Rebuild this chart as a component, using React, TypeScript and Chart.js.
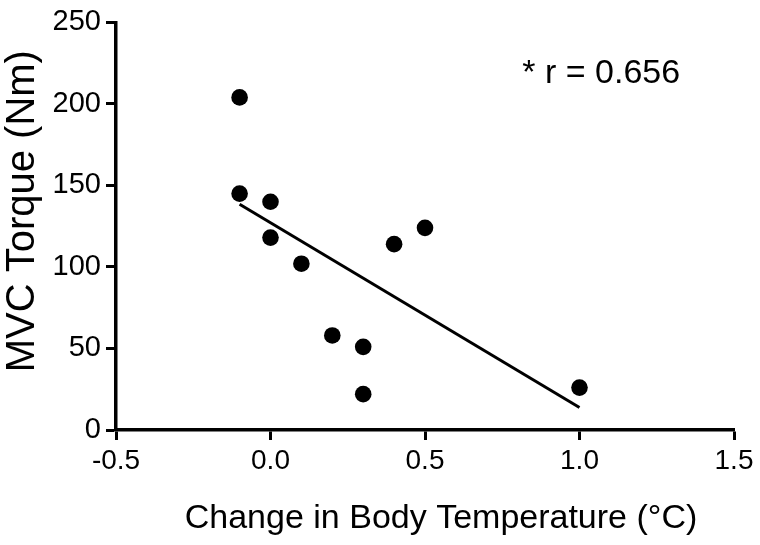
import React, { useEffect, useRef } from "react";
import { Chart, registerables } from "chart.js";

Chart.register(...registerables);

const tempChange = [-0.1, -0.1, 0.0, 0.0, 0.1, 0.2, 0.3, 0.3, 0.4, 0.5, 1.0];
const torque = [204, 145, 140, 118, 102, 58, 51, 22, 114, 124, 26];
const fitX = [-0.1, 1.0];
const fitY = [138.5, 13.8];
const xRange = [-0.5, 1.5];
const yRange = [0, 250];
const xStep = 0.5;
const yStep = 50;
const annotationText = "* r = 0.656";
const annotationAt = [0.815, 213];
const xTitle = "Change in Body Temperature (\u00B0C)";
const yTitle = "MVC Torque (Nm)";

const FONT = "'Liberation Sans', Arial, Helvetica, sans-serif";

export default function App() {
  const ref = useRef<HTMLCanvasElement | null>(null);

  useEffect(() => {
    const canvas = ref.current;
    if (!canvas) return;

    const textPlugin = {
      id: "texts",
      afterDraw(chart: any) {
        const { ctx, scales, chartArea } = chart;
        ctx.save();
        ctx.fillStyle = "#000";
        // annotation
        const px = scales.x.getPixelForValue(annotationAt[0]);
        const py = scales.y.getPixelForValue(annotationAt[1]);
        ctx.font = `34px ${FONT}`;
        ctx.textAlign = "left";
        ctx.textBaseline = "alphabetic";
        ctx.fillText(annotationText, px, py);
        // x axis title
        ctx.font = `34px ${FONT}`;
        ctx.textAlign = "center";
        ctx.textBaseline = "alphabetic";
        const cx = (chartArea.left + chartArea.right) / 2 + 16;
        ctx.fillText(xTitle, cx, chartArea.bottom + 98);
        // y axis title
        const cy = (chartArea.top + chartArea.bottom) / 2 - 15;
        ctx.translate(chartArea.left - 82, cy);
        ctx.rotate(-Math.PI / 2);
        ctx.font = `40px ${FONT}`;
        ctx.textAlign = "center";
        ctx.textBaseline = "alphabetic";
        ctx.fillText(yTitle, 0, 0);
        ctx.restore();
      },
    };

    const chart = new Chart(canvas, {
      type: "scatter",
      data: {
        datasets: [
          {
            type: "scatter",
            data: tempChange.map((x, i) => ({ x, y: torque[i] })),
            backgroundColor: "#000",
            borderColor: "#000",
            borderWidth: 0,
            pointRadius: 8.3,
            pointHoverRadius: 8.3,
          },
          {
            type: "line",
            data: fitX.map((x, i) => ({ x, y: fitY[i] })),
            borderColor: "#000",
            borderWidth: 3,
            pointRadius: 0,
            fill: false,
          } as any,
        ],
      },
      options: {
        animation: false,
        responsive: false,
        layout: { padding: { top: 20, right: 26, left: 0, bottom: 0 } },
        plugins: {
          legend: { display: false },
          tooltip: { enabled: false },
        },
        scales: {
          x: {
            type: "linear",
            min: xRange[0],
            max: xRange[1],
            afterFit(scale: any) {
              scale.height = 115;
            },
            ticks: {
              stepSize: xStep,
              color: "#000",
              padding: 4,
              font: { family: FONT, size: 28 },
              callback: (v: any) => Number(v).toFixed(1),
            },
            grid: {
              display: true,
              drawOnChartArea: false,
              drawTicks: true,
              tickLength: 10,
              tickWidth: 3,
              tickColor: "#000",
              color: "#000",
            },
            border: { display: true, color: "#000", width: 3.5 },
          },
          y: {
            type: "linear",
            min: yRange[0],
            max: yRange[1],
            afterFit(scale: any) {
              scale.width = 116;
            },
            ticks: {
              stepSize: yStep,
              color: "#000",
              padding: 5,
              font: { family: FONT, size: 29 },
            },
            grid: {
              display: true,
              drawOnChartArea: false,
              drawTicks: true,
              tickLength: 10,
              tickWidth: 3,
              tickColor: "#000",
              color: "#000",
            },
            border: { display: true, color: "#000", width: 3.5 },
          },
        },
      },
      plugins: [textPlugin],
    });

    return () => chart.destroy();
  }, []);

  return (
    <div style={{ position: "absolute", left: 0, top: 0, width: 760, height: 545, background: "#fff" }}>
      <canvas ref={ref} width={760} height={545} style={{ width: 760, height: 545, display: "block" }} />
    </div>
  );
}
